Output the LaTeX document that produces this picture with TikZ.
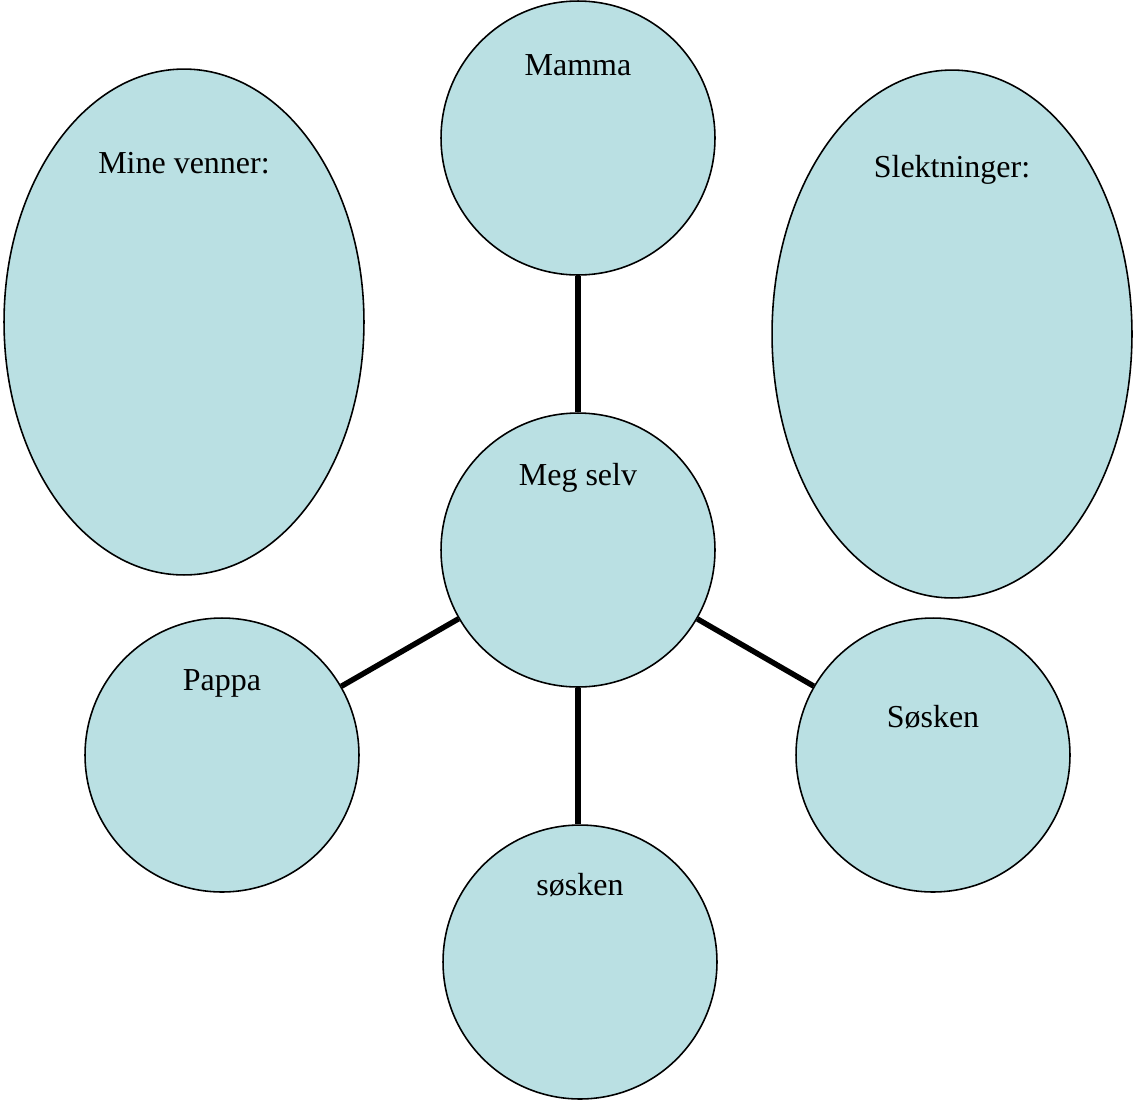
\documentclass[tikz,border=0pt]{standalone}
\usepackage{fontspec}
\setmainfont{Liberation Serif}
\usetikzlibrary{shapes.geometric}
\definecolor{bubble}{HTML}{BAE0E3}
\tikzset{
  bub/.style={circle, draw=black, line width=0.9pt, fill=bubble, minimum size=5.48cm, inner sep=0pt},
  oval/.style={ellipse, draw=black, line width=0.9pt, fill=bubble, inner sep=0pt},
  lbl/.style={anchor=base, inner sep=0pt, font=\fontsize{18.2}{20}\selectfont},
  link/.style={line width=3.1pt}
}
\begin{document}
\begin{tikzpicture}[x=0.02cm, y=-0.02cm]
\useasboundingbox (0,0) rectangle (1133,1100);
\node[oval, minimum width=7.2cm, minimum height=10.12cm] (venner) at (184,322) {};
\node[oval, minimum width=7.2cm, minimum height=10.56cm] (slekt) at (952,334) {};
\node[bub] (mamma) at (578,138) {};
\node[bub] (meg) at (578,550) {};
\node[bub] (pappa) at (222,755) {};
\node[bub] (sosken) at (933,755) {};
\node[bub] (sosken2) at (580,962) {};
\draw[link] (mamma) -- (meg);
\draw[link] (meg.south) -- (meg.south |- sosken2.north);
\draw[link] (meg) -- (pappa);
\draw[link] (meg) -- (sosken);
\node[lbl] (tv) at (184,173) {Mine venner:};
\node[lbl] (ts) at (952,177) {Slektninger:};
\node[lbl] (tm) at (578,75) {Mamma};
\node[lbl] (tg) at (578,485) {Meg selv};
\node[lbl] (tp) at (222,690) {Pappa};
\node[lbl] (tk) at (933,727) {Søsken};
\node[lbl] (tk2) at (580,895) {søsken};
\end{tikzpicture}
\end{document}
